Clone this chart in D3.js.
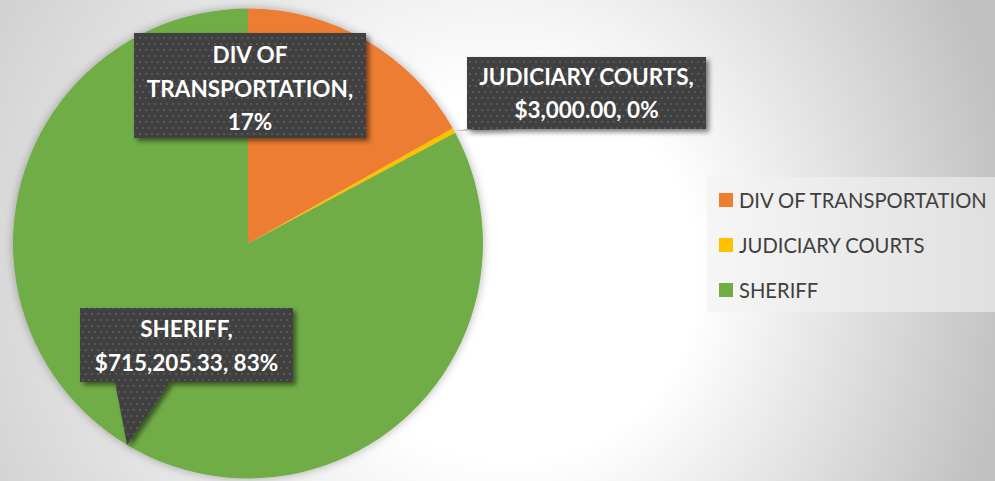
<!DOCTYPE html>
<html>
<head>
<meta charset="utf-8">
<script src="https://cdn.jsdelivr.net/npm/d3@7"></script>
<style>
  html, body { margin: 0; padding: 0; background: #fff; }
  svg { display: block; }
</style>
</head>
<body>
<svg id="chart" width="995" height="481"></svg>
<script>
// ---- data ----
const categories = ["DIV OF TRANSPORTATION", "JUDICIARY COURTS", "SHERIFF"];
const amounts = [145500, 3000, 715205.33];
const colors = ["#ED7D31", "#FFC000", "#70AD47"];
const labelLines = [
  ["DIV OF", "TRANSPORTATION,", "17%"],
  ["JUDICIARY COURTS,", "$3,000.00, 0%"],
  ["SHERIFF,", "$715,205.33, 83%"]
];

// ---- layout ----
const W = 995, H = 481;
const cx = 248, cy = 243.5, R = 235;
const svg = d3.select("#chart");
const defs = svg.append("defs");

// background gradient
const bg = defs.append("radialGradient").attr("id", "bgGrad")
  .attr("gradientUnits", "userSpaceOnUse")
  .attr("cx", 400).attr("cy", 260).attr("r", 620)
  .attr("fx", 560).attr("fy", 280);
bg.append("stop").attr("offset", 0).attr("stop-color", "#ffffff");
bg.append("stop").attr("offset", 0.3).attr("stop-color", "#ffffff");
bg.append("stop").attr("offset", 1).attr("stop-color", "#c0c0c0");
svg.append("rect").attr("width", W).attr("height", H).attr("fill", "url(#bgGrad)");

// filters
const pieShadow = defs.append("filter").attr("id", "pieShadow")
  .attr("x", "-10%").attr("y", "-10%").attr("width", "120%").attr("height", "120%");
pieShadow.append("feDropShadow").attr("dx", 0).attr("dy", 0).attr("stdDeviation", 5)
  .attr("flood-color", "#000").attr("flood-opacity", 0.3);

const boxShadow = defs.append("filter").attr("id", "boxShadow")
  .attr("x", "-20%").attr("y", "-20%").attr("width", "140%").attr("height", "150%");
boxShadow.append("feDropShadow").attr("dx", 3).attr("dy", 3).attr("stdDeviation", 2.5)
  .attr("flood-color", "#000").attr("flood-opacity", 0.5);

// dotted pattern for callouts
const pat = defs.append("pattern").attr("id", "dots")
  .attr("patternUnits", "userSpaceOnUse").attr("width", 6).attr("height", 12);
pat.append("rect").attr("width", 6).attr("height", 12).attr("fill", "#404040");
pat.append("rect").attr("x", 1).attr("y", 1).attr("width", 2).attr("height", 2).attr("fill", "#595959");
pat.append("rect").attr("x", 4).attr("y", 7).attr("width", 2).attr("height", 2).attr("fill", "#595959");

// ---- pie ----
const pie = d3.pie().sort(null).value(d => d.v);
const data = categories.map((c, i) => ({ c, v: amounts[i], col: colors[i], lines: labelLines[i] }));
const arcs = pie(data);
const arc = d3.arc().innerRadius(0).outerRadius(R);

const g = svg.append("g").attr("transform", `translate(${cx},${cy})`);
g.append("g").attr("filter", "url(#pieShadow)")
  .selectAll("path").data(arcs).join("path")
  .attr("d", arc).attr("fill", d => d.data.col);

// ---- callouts ----
const font = "Lato, 'Open Sans', sans-serif";
const boxes = [
  { x: 134, y: 33, w: 232, h: 105, tail: null, lineY: [63, 97, 130] },
  { x: 467, y: 57, w: 239, h: 72, tail: [10, 55], lineY: [85, 118] },
  { x: 80, y: 308, w: 213, h: 74, tail: [35, 90], lineY: [337, 371] }
];

arcs.forEach((a, i) => {
  const b = boxes[i];
  const mid = (a.startAngle + a.endAngle) / 2;
  const tip = [cx + R * Math.sin(mid), cy - R * Math.cos(mid)];
  let d = `M${b.x},${b.y} H${b.x + b.w} V${b.y + b.h} `;
  if (b.tail) {
    d += `H${b.x + b.tail[1]} L${tip[0]},${tip[1]} L${b.x + b.tail[0]},${b.y + b.h} `;
  }
  d += `H${b.x} Z`;
  svg.append("path").attr("d", d).attr("fill", "url(#dots)").attr("filter", "url(#boxShadow)");
  const t = svg.append("text").attr("text-anchor", "middle")
    .attr("font-family", font).attr("font-weight", 700).attr("font-size", 22.5)
    .attr("fill", "#ffffff");
  a.data.lines.forEach((ln, j) => {
    t.append("tspan").attr("x", b.x + b.w / 2).attr("y", b.lineY[j]).text(ln);
  });
});

// ---- legend ----
const leg = svg.append("g");
leg.append("rect").attr("x", 707).attr("y", 177).attr("width", 288).attr("height", 135)
  .attr("fill", "#f2f2f2").attr("opacity", 0.6);
const items = leg.selectAll("g.item").data(data).join("g").attr("class", "item")
  .attr("transform", (d, i) => `translate(719,${193 + i * 45})`);
items.append("rect").attr("width", 14).attr("height", 14).attr("fill", d => d.col);
items.append("text").attr("x", 20).attr("y", 14.5)
  .attr("font-family", font).attr("font-size", 20.2).attr("fill", "#404040")
  .text(d => d.c);
</script>
</body>
</html>
